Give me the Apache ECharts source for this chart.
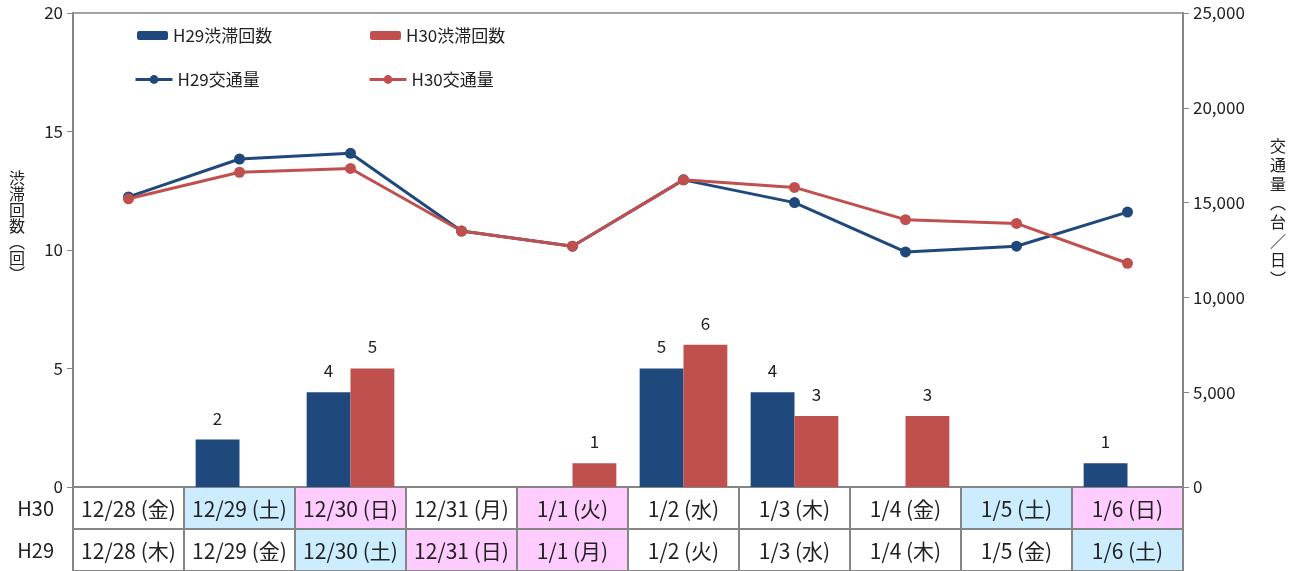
<!DOCTYPE html>
<html>
<head>
<meta charset="utf-8">
<script src="https://cdn.jsdelivr.net/npm/echarts@6/dist/echarts.min.js"></script>
<style>
  html, body { margin: 0; padding: 0; background: #fff; }
  #chart { width: 1304px; height: 571px; }
</style>
</head>
<body>
<div id="chart"></div>
<script>
// カテゴリ（H30の日付）
var categories = ['12/28', '12/29', '12/30', '12/31', '1/1', '1/2', '1/3', '1/4', '1/5', '1/6']
// 表の行
var h30Days = ['12/28 (金)', '12/29 (土)', '12/30 (日)', '12/31 (月)', '1/1 (火)', '1/2 (水)', '1/3 (木)', '1/4 (金)', '1/5 (土)', '1/6 (日)']
var h29Days = ['12/28 (木)', '12/29 (金)', '12/30 (土)', '12/31 (日)', '1/1 (月)', '1/2 (火)', '1/3 (水)', '1/4 (木)', '1/5 (金)', '1/6 (土)']
var holidays = ['1/1']
// 渋滞回数
var h29Jam = [0, 2, 4, 0, 0, 5, 4, 0, 0, 1]
var h30Jam = [0, 0, 5, 0, 1, 6, 3, 3, 0, 0]
// 交通量（台／日）
var h29Traffic = [15300, 17300, 17600, 13500, 12700, 16200, 15000, 12400, 12700, 14500]
var h30Traffic = [15200, 16600, 16800, 13500, 12700, 16200, 15800, 14100, 13900, 11800]

var FONT = '"Noto Sans CJK JP", "Noto Sans", sans-serif'
var BLUE = '#1F497D', RED = '#C0504D', GRID = '#868686'

// 表セル
var cells = []
;[['H30', h30Days], ['H29', h29Days]].forEach(function (row) {
  row[1].forEach(function (txt, i) {
    let d = txt.split(' ')[0]
    let kind = 'w'
    if (txt.indexOf('土') > -1) kind = 'sat'
    if (txt.indexOf('(日)') > -1 || holidays.indexOf(d) > -1) kind = 'hol'
    cells.push({ x: i, y: row[0], text: txt, kind: kind })
  })
})
var cellFill = { w: '#ffffff', sat: '#CCECFF', hol: '#FFCCFF' }

var chart = echarts.init(document.getElementById('chart'))

function barLabel(p) { return p.value ? p.value : '' }

// 縦書き（末尾の空行で少し上に寄せる）
function vertical(str, pad) {
  return str.split('').join('\n') + new Array(pad + 1).join('\n')
}

var legendText = { fontSize: 17, color: '#222', fontFamily: FONT }

var option = {
  backgroundColor: '#fff',
  animation: false,
  textStyle: { fontFamily: FONT },
  legend: [
    { data: ['H29渋滞回数'], left: 137, top: 27, padding: 0, itemWidth: 31, itemHeight: 9, textStyle: legendText },
    { data: ['H30渋滞回数'], left: 370, top: 27, padding: 0, itemWidth: 31, itemHeight: 9, textStyle: legendText },
    { data: ['H29交通量'], left: 134, top: 71, padding: 0, itemWidth: 37, itemHeight: 11, lineStyle: { width: 3 }, textStyle: legendText },
    { data: ['H30交通量'], left: 368, top: 71, padding: 0, itemWidth: 37, itemHeight: 11, lineStyle: { width: 3 }, textStyle: legendText }
  ],
  grid: [
    { left: 73, right: 121, top: 13, bottom: 84, show: true, borderColor: GRID, borderWidth: 1.5 },
    { left: 73, right: 121, top: 487, height: 84 }
  ],
  xAxis: [
    {
      type: 'category', data: categories, gridIndex: 0,
      axisLine: { lineStyle: { color: GRID, width: 2 } },
      axisTick: { show: false }, axisLabel: { show: false }
    },
    {
      type: 'category', data: categories, gridIndex: 1,
      axisLine: { show: false }, axisTick: { show: false }, axisLabel: { show: false }
    }
  ],
  yAxis: [
    {
      type: 'value', min: 0, max: 20, interval: 5, gridIndex: 0,
      name: vertical('渋滞回数︵回︶', 3), nameLocation: 'middle', nameRotate: 0, nameGap: 48,
      nameTextStyle: { fontSize: 16, lineHeight: 16, color: '#222', fontFamily: FONT },
      axisLine: { show: true, lineStyle: { color: GRID, width: 2 } },
      axisTick: { show: true, length: 6, lineStyle: { color: GRID } },
      axisLabel: { fontSize: 17, color: '#222', margin: 10, fontFamily: FONT },
      splitLine: { show: false }
    },
    {
      type: 'value', min: 0, max: 25000, interval: 5000, gridIndex: 0, position: 'right',
      name: vertical('交通量︵台／日︶', 4), nameLocation: 'middle', nameRotate: 0, nameGap: 87,
      nameTextStyle: { fontSize: 16, lineHeight: 19, color: '#222', fontFamily: FONT },
      axisLine: { show: true, lineStyle: { color: GRID, width: 2 } },
      axisTick: { show: true, length: 6, lineStyle: { color: GRID } },
      axisLabel: {
        fontSize: 17, color: '#222', margin: 10, fontFamily: FONT,
        formatter: function (v) { return v.toLocaleString('en-US') }
      },
      splitLine: { show: false }
    },
    {
      type: 'category', data: ['H29', 'H30'], gridIndex: 1,
      axisLine: { show: false }, axisTick: { show: false },
      axisLabel: { fontSize: 20, color: '#222', margin: 19, fontFamily: FONT }
    }
  ],
  series: [
    {
      name: 'H29渋滞回数', type: 'bar', data: h29Jam, barGap: '0%', barCategoryGap: '21%',
      itemStyle: { color: BLUE },
      label: { show: true, position: 'top', distance: 13, fontSize: 17, color: '#222', formatter: barLabel }
    },
    {
      name: 'H30渋滞回数', type: 'bar', data: h30Jam, barGap: '0%', barCategoryGap: '21%',
      itemStyle: { color: RED },
      label: { show: true, position: 'top', distance: 13, fontSize: 17, color: '#222', formatter: barLabel }
    },
    {
      name: 'H29交通量', type: 'line', yAxisIndex: 1, data: h29Traffic, z: 5,
      symbol: 'circle', symbolSize: 11,
      lineStyle: { color: BLUE, width: 3 }, itemStyle: { color: BLUE }
    },
    {
      name: 'H30交通量', type: 'line', yAxisIndex: 1, data: h30Traffic, z: 6,
      symbol: 'circle', symbolSize: 11,
      lineStyle: { color: RED, width: 3 }, itemStyle: { color: RED }
    },
    {
      type: 'custom', xAxisIndex: 1, yAxisIndex: 2, silent: true,
      data: cells.map(function (c) { return [c.x, c.y] }),
      renderItem: function (params, api) {
        let c = cells[params.dataIndex]
        let p = api.coord([api.value(0), api.value(1)])
        let s = api.size([1, 1])
        return {
          type: 'group',
          children: [{
            type: 'rect',
            shape: { x: p[0] - s[0] / 2, y: p[1] - s[1] / 2, width: s[0], height: s[1] },
            style: { fill: cellFill[c.kind], stroke: GRID, lineWidth: 2 }
          }, {
            type: 'text',
            style: {
              text: c.text, x: p[0], y: p[1] + 1, align: 'center', verticalAlign: 'middle',
              font: '21px ' + FONT, fill: '#222'
            }
          }]
        }
      }
    }
  ]
}

chart.setOption(option)
</script>
</body>
</html>
